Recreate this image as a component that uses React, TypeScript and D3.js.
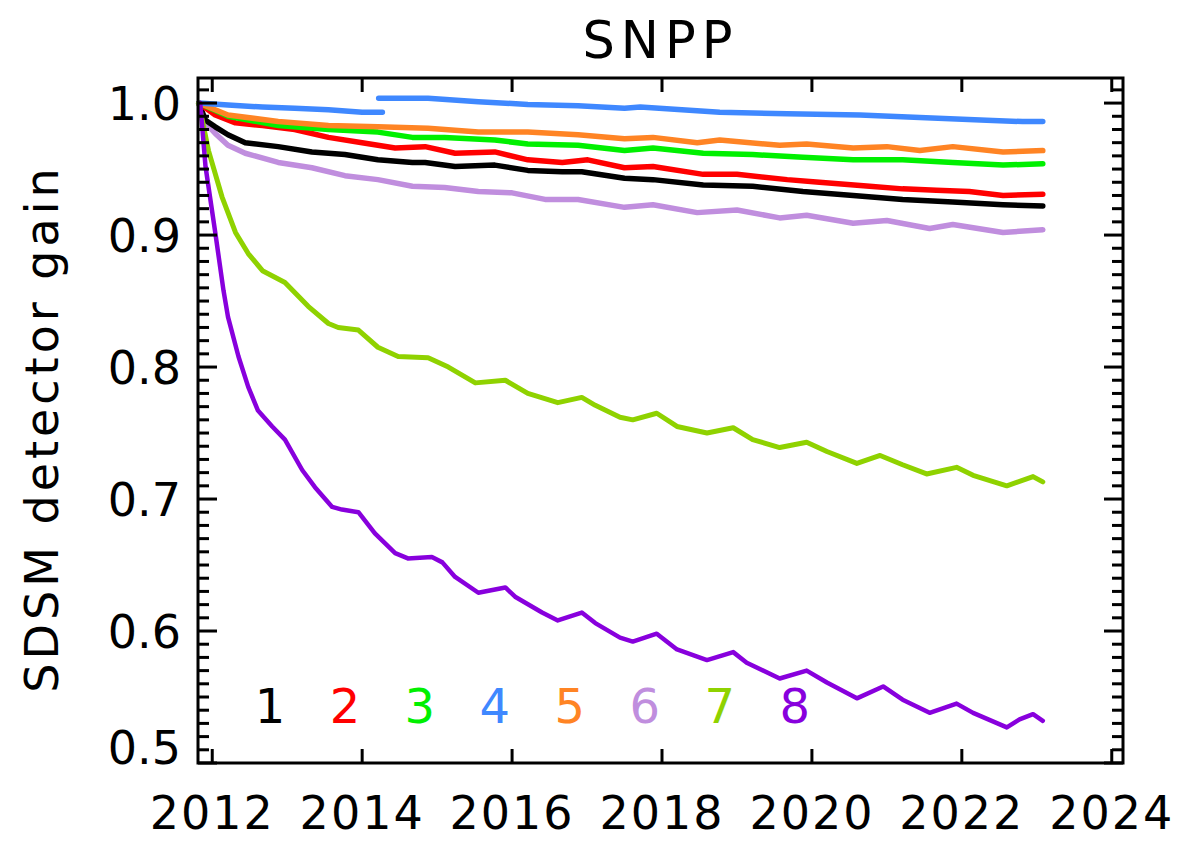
import React from "react";
import * as d3 from "d3";

// SDSM detector gain history for SNPP, bands 1-8 (decimal year, gain)
const band1: [number, number][] = [
  [2011.82, 1.0], [2011.91, 0.987], [2012.04, 0.982], [2012.21, 0.976], [2012.44, 0.97],
  [2012.88, 0.967], [2013.33, 0.963], [2013.77, 0.961], [2014.21, 0.957], [2014.67, 0.955],
  [2014.84, 0.955], [2015.24, 0.952], [2015.77, 0.953], [2016.21, 0.949], [2016.67, 0.948],
  [2016.93, 0.948], [2017.5, 0.943], [2017.88, 0.942], [2018.55, 0.938], [2019.21, 0.937],
  [2019.88, 0.933], [2020.55, 0.93], [2021.21, 0.927], [2021.88, 0.925], [2022.55, 0.923],
  [2023.08, 0.922],
];
const band2: [number, number][] = [
  [2011.82, 1.0], [2012.04, 0.991], [2012.31, 0.985], [2012.67, 0.983], [2013.1, 0.98],
  [2013.55, 0.974], [2014.0, 0.97], [2014.44, 0.966], [2014.84, 0.967], [2015.24, 0.962],
  [2015.77, 0.963], [2016.21, 0.957], [2016.67, 0.955], [2017.01, 0.957], [2017.5, 0.951],
  [2017.88, 0.952], [2018.55, 0.946], [2019.0, 0.946], [2019.67, 0.942], [2020.1, 0.94],
  [2020.77, 0.937], [2021.21, 0.935], [2021.66, 0.934], [2022.1, 0.933], [2022.55, 0.93],
  [2023.08, 0.931],
];
const band3: [number, number][] = [
  [2011.82, 1.0], [2012.21, 0.99], [2012.88, 0.983], [2013.55, 0.98], [2014.21, 0.978],
  [2014.67, 0.974], [2015.1, 0.974], [2015.77, 0.972], [2016.21, 0.969], [2016.88, 0.968],
  [2017.5, 0.964], [2017.88, 0.966], [2018.55, 0.962], [2019.21, 0.961], [2019.88, 0.959],
  [2020.55, 0.957], [2021.21, 0.957], [2021.88, 0.955], [2022.55, 0.953], [2023.08, 0.954],
];
// Band 4 has a reset in 2014, so it is drawn as two segments
const band4a: [number, number][] = [
  [2011.82, 1.0], [2012.21, 0.9985], [2012.67, 0.997], [2013.1, 0.996], [2013.55, 0.995],
  [2014.0, 0.993], [2014.27, 0.993],
];
const band4b: [number, number][] = [
  [2014.22, 1.0036], [2014.88, 1.0036], [2015.55, 1.001], [2016.21, 0.999], [2016.88, 0.998],
  [2017.5, 0.996], [2017.71, 0.997], [2018.77, 0.993], [2019.67, 0.992], [2020.64, 0.991],
  [2021.44, 0.989], [2022.33, 0.987], [2022.81, 0.986], [2023.08, 0.986],
];
const band5: [number, number][] = [
  [2011.82, 1.0], [2012.21, 0.991], [2012.88, 0.986], [2013.55, 0.983], [2014.21, 0.982],
  [2014.88, 0.981], [2015.55, 0.978], [2016.21, 0.978], [2016.88, 0.976], [2017.5, 0.973],
  [2017.88, 0.974], [2018.47, 0.97], [2018.77, 0.972], [2019.57, 0.968], [2019.93, 0.969],
  [2020.55, 0.966], [2021.0, 0.967], [2021.44, 0.964], [2021.88, 0.967], [2022.55, 0.963],
  [2023.08, 0.964],
];
const band6: [number, number][] = [
  [2011.82, 1.0], [2011.91, 0.985], [2012.04, 0.977], [2012.21, 0.968], [2012.44, 0.962],
  [2012.88, 0.955], [2013.33, 0.951], [2013.77, 0.945], [2014.21, 0.942], [2014.67, 0.937],
  [2015.1, 0.936], [2015.55, 0.933], [2016.0, 0.932], [2016.44, 0.927], [2016.88, 0.927],
  [2017.5, 0.921], [2017.88, 0.923], [2018.47, 0.917], [2019.0, 0.919], [2019.57, 0.913],
  [2019.93, 0.915], [2020.55, 0.909], [2021.0, 0.911], [2021.57, 0.905], [2021.88, 0.908],
  [2022.55, 0.902], [2023.08, 0.904],
];
const band7: [number, number][] = [
  [2011.82, 1.0], [2011.95, 0.964], [2012.13, 0.929], [2012.31, 0.902], [2012.48, 0.886],
  [2012.67, 0.873], [2012.97, 0.864], [2013.28, 0.846], [2013.55, 0.833], [2013.68, 0.83],
  [2013.95, 0.828], [2014.21, 0.815], [2014.48, 0.808], [2014.88, 0.807], [2015.15, 0.8],
  [2015.51, 0.788], [2015.91, 0.79], [2016.21, 0.78], [2016.61, 0.773], [2016.93, 0.777],
  [2017.11, 0.771], [2017.44, 0.762], [2017.61, 0.76], [2017.93, 0.765], [2018.2, 0.755],
  [2018.6, 0.75], [2018.95, 0.754], [2019.21, 0.745], [2019.57, 0.739], [2019.93, 0.743],
  [2020.2, 0.736], [2020.6, 0.727], [2020.91, 0.733], [2021.21, 0.726], [2021.53, 0.719],
  [2021.93, 0.724], [2022.15, 0.718], [2022.6, 0.71], [2022.95, 0.717], [2023.08, 0.713],
];
const band8: [number, number][] = [
  [2011.84, 1.0], [2011.91, 0.952], [2012.04, 0.902], [2012.15, 0.858], [2012.21, 0.838],
  [2012.35, 0.808], [2012.48, 0.785], [2012.61, 0.767], [2012.8, 0.755], [2012.97, 0.745],
  [2013.2, 0.722], [2013.37, 0.709], [2013.6, 0.694], [2013.73, 0.692], [2013.95, 0.69],
  [2014.17, 0.674], [2014.44, 0.659], [2014.61, 0.655], [2014.93, 0.656], [2015.07, 0.652],
  [2015.24, 0.641], [2015.55, 0.629], [2015.91, 0.633], [2016.04, 0.626], [2016.4, 0.614],
  [2016.61, 0.608], [2016.93, 0.614], [2017.11, 0.606], [2017.44, 0.595], [2017.61, 0.592],
  [2017.93, 0.598], [2018.2, 0.586], [2018.6, 0.578], [2018.95, 0.584], [2019.13, 0.576],
  [2019.57, 0.564], [2019.93, 0.57], [2020.2, 0.561], [2020.6, 0.549], [2020.95, 0.558],
  [2021.21, 0.548], [2021.57, 0.538], [2021.93, 0.545], [2022.15, 0.538], [2022.6, 0.527],
  [2022.77, 0.533], [2022.95, 0.537], [2023.08, 0.532],
];

const bandLabels = ["1", "2", "3", "4", "5", "6", "7", "8"];
const bandColors = ["#000000", "#ff0000", "#00f000", "#3f88ff", "#ff8424", "#c08ede", "#8fd200", "#8800dd"];
const xTicks = [2012, 2014, 2016, 2018, 2020, 2022, 2024];
const yTicks = [0.5, 0.6, 0.7, 0.8, 0.9, 1.0];

const FONT = "'DejaVu Sans', Verdana, sans-serif";

export default function App() {
  const W = 1197;
  const H = 842;
  const left = 198, right = 1123, top = 78, bottom = 763;

  const x = d3.scaleLinear().domain([2011.81, 2024.15]).range([left, right]);
  const y = d3.scaleLinear().domain([0.5, 1.019]).range([bottom, top]);

  const line = d3
    .line<[number, number]>()
    .x((d) => x(d[0]))
    .y((d) => y(d[1]))
    .curve(d3.curveLinear);

  const series: { data: [number, number][]; color: string; width: number }[] = [
    { data: band6, color: bandColors[5], width: 5.5 },
    { data: band1, color: bandColors[0], width: 5.5 },
    { data: band2, color: bandColors[1], width: 5.5 },
    { data: band3, color: bandColors[2], width: 5.5 },
    { data: band5, color: bandColors[4], width: 5.5 },
    { data: band4a, color: bandColors[3], width: 5.5 },
    { data: band4b, color: bandColors[3], width: 5.5 },
    { data: band7, color: bandColors[6], width: 5 },
    { data: band8, color: bandColors[7], width: 4.5 },
  ];

  const minorTicks = d3.range(50, 102).map((v) => v / 100);
  const axisW = 3;

  return (
    <svg width={W} height={H} viewBox={`0 0 ${W} ${H}`} style={{ display: "block", position: "absolute", left: 0, top: 0 }}>
      <rect x={0} y={0} width={W} height={H} fill="#ffffff" />

      {/* title */}
      <text x={(left + right) / 2} y={58} textAnchor="middle" fontFamily={FONT} fontSize={51} letterSpacing={6} fill="#000">
        SNPP
      </text>

      {/* y axis title */}
      <text
        transform={`translate(58, ${(top + bottom) / 2 + 8}) rotate(-90)`}
        textAnchor="middle"
        fontFamily={FONT}
        fontSize={46}
        letterSpacing={4}
        fill="#000"
      >
        SDSM detector gain
      </text>

      {/* data */}
      <g fill="none" strokeLinejoin="round" strokeLinecap="round">
        {series.map((s, i) => (
          <path key={i} d={line(s.data) ?? ""} stroke={s.color} strokeWidth={s.width} />
        ))}
      </g>

      {/* band labels */}
      {bandLabels.map((b, i) => (
        <text
          key={b}
          x={x(2012.77) + i * (x(2013) - x(2012))}
          y={723}
          textAnchor="middle"
          fontFamily={FONT}
          fontSize={48}
          fill={bandColors[i]}
        >
          {b}
        </text>
      ))}

      {/* frame */}
      <rect x={left} y={top} width={right - left} height={bottom - top} fill="none" stroke="#000" strokeWidth={axisW} />

      {/* y ticks on both sides, x ticks on top and bottom */}
      <g stroke="#000" strokeWidth={axisW}>
        {minorTicks.map((v) => {
          const major = Math.abs(v * 10 - Math.round(v * 10)) < 1e-6;
          const len = major ? 19 : 11;
          return (
            <g key={v}>
              <line x1={left} x2={left + len} y1={y(v)} y2={y(v)} />
              <line x1={right} x2={right - len} y1={y(v)} y2={y(v)} />
            </g>
          );
        })}
        {xTicks.map((t) => (
          <g key={t}>
            <line x1={x(t)} x2={x(t)} y1={bottom} y2={bottom - 14} />
            <line x1={x(t)} x2={x(t)} y1={top} y2={top + 14} />
          </g>
        ))}
      </g>

      {/* y tick labels */}
      {yTicks.map((v) => (
        <text
          key={v}
          x={181}
          y={v === 0.5 ? y(v) + 1 : y(v) + 17}
          textAnchor="end"
          fontFamily={FONT}
          fontSize={46}
          fill="#000"
        >
          {d3.format(".1f")(v)}
        </text>
      ))}

      {/* x tick labels */}
      {xTicks.map((t) => (
        <text key={t} x={x(t)} y={829} textAnchor="middle" fontFamily={FONT} fontSize={46} letterSpacing={2} fill="#000">
          {t}
        </text>
      ))}
    </svg>
  );
}
